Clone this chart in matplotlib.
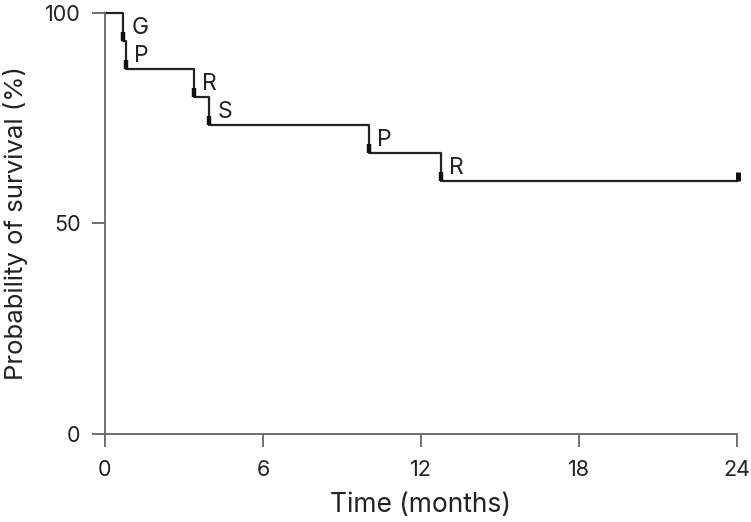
import matplotlib
matplotlib.use('Agg')
import matplotlib.pyplot as plt
import numpy as np

plt.rcParams['font.family'] = ['Inter', 'DejaVu Sans']

# event times (months), survival after each event (%), event labels
event_times = [0.68, 0.8, 3.38, 3.95, 10.03, 12.76]
survival = [93.3, 86.7, 80.0, 73.3, 66.7, 60.0]
event_labels = ['G', 'P', 'R', 'S', 'P', 'R']
end_time = 24
x_ticks = [0, 6, 12, 18, 24]
y_ticks = [0, 50, 100]

fig = plt.figure(figsize=(7.51, 5.22), dpi=100)
ax = fig.add_axes([0.1398, 0.1686, 0.8415, 0.8065])

xs = [0] + event_times + [end_time]
ys = [100] + survival + [survival[-1]]
ax.step(xs, ys, where='post', color='#222222', lw=1.6, clip_on=False)

# small thick marks at the foot of every drop
for t, s in zip(event_times, survival):
    ax.plot([t, t], [s, s + 2.2], color='#111111', lw=3.2, solid_capstyle='butt')
ax.plot([end_time + 0.04, end_time + 0.04], [survival[-1], survival[-1] + 2.2],
        color='#111111', lw=3.6, solid_capstyle='butt', clip_on=False)

for t, s, lab in zip(event_times, survival, event_labels):
    ax.annotate(lab, (t, s), xytext=(6, 1.5), textcoords='offset points',
                ha='left', va='bottom', fontsize=16.5, color='#222222')

ax.set_xlim(0, 24)
ax.set_ylim(0, 100)
ax.set_xticks(x_ticks)
ax.set_yticks(y_ticks)
for side in ['top', 'right']:
    ax.spines[side].set_visible(False)
for side in ['left', 'bottom']:
    ax.spines[side].set_color('#666666')
    ax.spines[side].set_linewidth(1.3)
ax.tick_params(length=9.5, width=1.3, color='#666666', labelsize=15.5,
               labelcolor='#222222')
ax.tick_params(axis='y', pad=8)
ax.tick_params(axis='x', pad=9)
ax.set_xlabel('Time (months)', fontsize=19, color='#222222', labelpad=9)
ax.set_ylabel('Probability of survival (%)', fontsize=18.5, color='#222222', labelpad=12)

fig.savefig('out.png', dpi=100)
